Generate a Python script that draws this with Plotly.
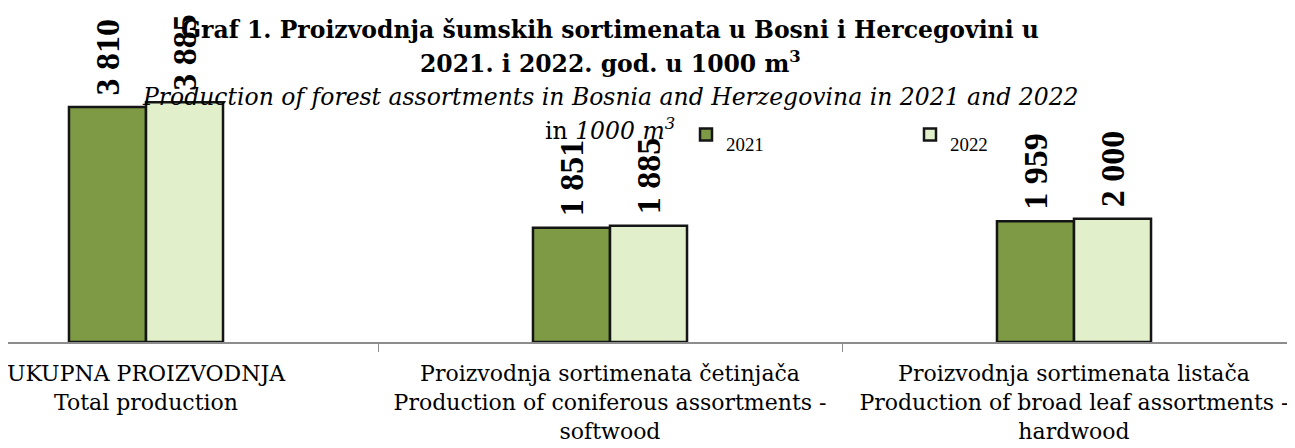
import plotly.graph_objects as go

categories = [
    "UKUPNA PROIZVODNJA<br>Total production",
    "Proizvodnja sortimenata četinjača<br>Production of coniferous assortments -<br>softwood",
    "Proizvodnja sortimenata listača<br>Production of broad leaf assortments -<br>hardwood",
]
series_names = ["2021", "2022"]
values_2021 = [3810, 1851, 1959]
values_2022 = [3885, 1885, 2000]

title_lines = [
    "<b>Graf 1. Proizvodnja šumskih sortimenata u Bosni i Hercegovini u</b>",
    "<b>2021. i 2022. god. u 1000 m<sup>3</sup></b>",
    "<i>Production of forest assortments in Bosnia and Herzegovina in 2021 and 2022</i>",
    "in <i>1000 m<sup>3</sup></i>",
]

fill_colors = ["#7E9A45", "#E1EFCB"]
W, H = 1295, 448
OFF = 8            # page body margin
PLOT_H = 342 - OFF  # plot area height in figure pixels


def fmt(v):
    return "\u00a0" + f"{v:,}".replace(",", " ")


def py(screen_y):
    return 1 - (screen_y - OFF) / PLOT_H


fig = go.Figure()
for name, vals, col in zip(series_names, [values_2021, values_2022], fill_colors):
    fig.add_trace(go.Bar(
        x=categories, y=vals, name=f"<sub>{name}</sub>",
        marker=dict(color=col, line=dict(color="#151515", width=2.5)),
        text=[fmt(v) for v in vals], textposition="outside", textangle=-90,
        constraintext="none", cliponaxis=False,
        textfont=dict(family="Liberation Serif", size=34, color="black", weight="bold"),
    ))

title_y = [30, 62, 97, 129]
tfont = dict(family="DejaVu Serif", size=23.5, color="black")
for txt, yy in zip(title_lines, title_y):
    fig.add_annotation(text=txt, xref="paper", yref="paper", x=(610 - OFF) / W, y=py(yy),
                       xanchor="center", yanchor="middle", showarrow=False, font=tfont)

cat_w = 464.0
c0 = 146 - OFF
fig.update_layout(
    width=W, height=H, margin=dict(l=0, r=0, t=0, b=H - PLOT_H),
    paper_bgcolor="white", plot_bgcolor="white",
    barmode="group", bargap=0.668, bargroupgap=0,
    showlegend=True,
    legend=dict(orientation="h", x=(686 - OFF) / W, y=py(135), xanchor="left", yanchor="middle",
                entrywidth=179, entrywidthmode="pixels", bgcolor="rgba(0,0,0,0)",
                font=dict(family="Liberation Serif", size=27, color="black"), traceorder="normal"),
    xaxis=dict(type="category", range=[-c0 / cat_w, (W - c0) / cat_w], showline=True,
               linecolor="#8c8c8c", linewidth=2,
               ticks="outside", tickson="boundaries", ticklen=8, tickcolor="#8c8c8c", tickwidth=1,
               showgrid=False, automargin=False, ticklabelstandoff=11,
               tickfont=dict(family="DejaVu Serif", size=22, color="black")),
    yaxis=dict(range=[0, PLOT_H / (235 / 3810)], visible=False, showgrid=False, zeroline=False),
)

fig.write_html("out.html")
